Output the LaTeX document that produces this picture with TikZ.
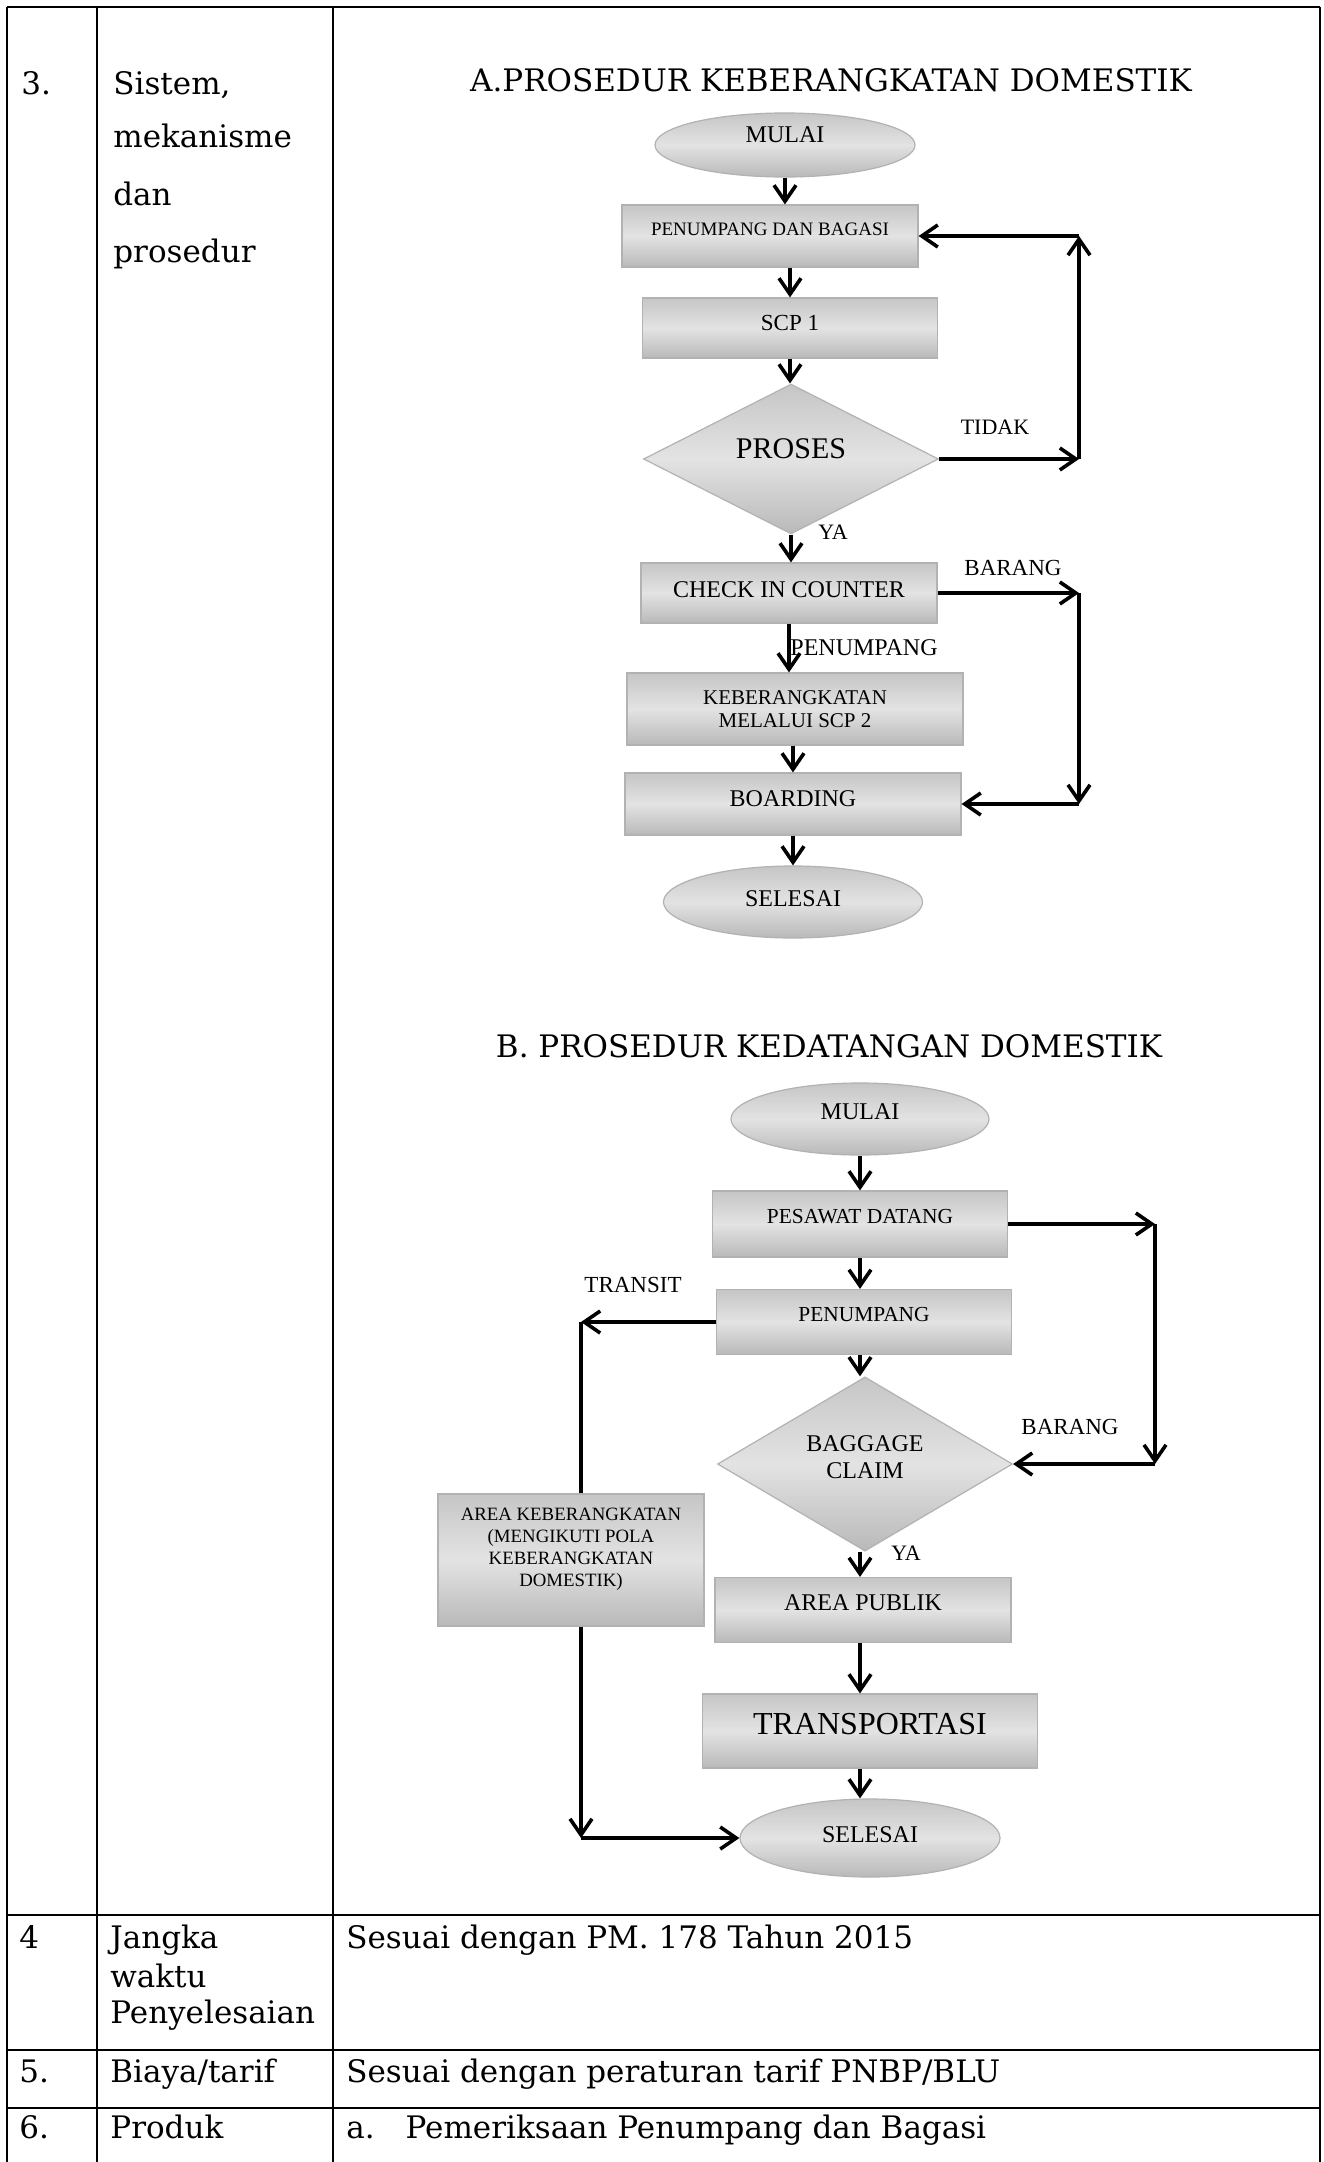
\documentclass[tikz,border=0pt]{standalone}
\usepackage{fontspec}
\setmainfont{Liberation Serif}
\newfontfamily\tabfont{DejaVu Serif}
\usetikzlibrary{arrows.meta,shapes,positioning,calc}

\begin{document}
\begin{tikzpicture}[x=0.5pt,y=-0.5pt,
  fs/.style 2 args={font=\fontsize{#1}{#2}\selectfont},
  tabtxt/.style={font=\tabfont\fontsize{15.5}{17}\selectfont,inner sep=0pt,anchor=base west},
  tabline/.style={line width=1.3pt},
  gshade/.style={top color=gray!45,bottom color=gray!55,middle color=gray!22,draw=gray!60,line width=0.6pt,inner sep=0pt,align=center,text depth=7pt},
  box/.style={gshade,rectangle},
  term/.style={gshade,ellipse},
  dec/.style={gshade,diamond},
  arr/.style={line width=1.8pt,-{Straight Barb[length=8pt,width=11pt]}},
  lbl/.style={inner sep=0pt}
]
\useasboundingbox (0,0) rectangle (1323,2162);
\fill[white] (0,0) rectangle (1323,2162);

% table frame
\draw[tabline] (7,7) -- (1320,7);
\draw[tabline] (7,7) -- (7,2162);
\draw[tabline] (97,7) -- (97,2162);
\draw[tabline] (333,7) -- (333,2162);
\draw[tabline] (1320,7) -- (1320,2162);
\draw[tabline] (7,1915) -- (1320,1915);
\draw[tabline] (7,2050) -- (1320,2050);
\draw[tabline] (7,2108) -- (1320,2108);

% row 3
\node[tabtxt] (no3) at (21,95) {3.};
\node[tabtxt] (sis1) at (113,95) {Sistem,};
\node[tabtxt] (sis2) at (113,148) {mekanisme};
\node[tabtxt] (sis3) at (113,205) {dan};
\node[tabtxt] (sis4) at (113,262) {prosedur};
\node[tabtxt,anchor=base] (headA) at (831,92) {A.PROSEDUR KEBERANGKATAN DOMESTIK};
\node[tabtxt,anchor=base] (headB) at (829,1057) {B. PROSEDUR KEDATANGAN DOMESTIK};

% A. keberangkatan
\node[term,fs={12}{14},text depth=10pt,minimum width=130pt,minimum height=32pt] (mulaiA) at (785,145) {MULAI};
\node[box,fs={9.5}{11},minimum width=148pt,minimum height=31pt] (pdb) at (770,236) {PENUMPANG DAN BAGASI};
\node[box,fs={11.5}{13},text depth=5pt,minimum width=147.5pt,minimum height=30pt] (scp1) at (790,328) {SCP 1};
\node[dec,fs={15}{17},text depth=10pt,minimum width=147.5pt,minimum height=71pt] (proses) at (791,459) {PROSES};
\node[box,fs={12}{14},text depth=3pt,minimum width=148pt,minimum height=30pt] (cic) at (789,593) {CHECK IN COUNTER};
\node[box,fs={10.5}{11.5},text depth=0pt,minimum width=168pt,minimum height=36pt] (keb) at (795,709) {KEBERANGKATAN\\MELALUI SCP 2};
\node[box,fs={12}{14},text depth=5pt,minimum width=168pt,minimum height=31pt] (boarding) at (793,804) {BOARDING};
\node[term,fs={12}{14},text depth=3pt,minimum width=129.5pt,minimum height=36pt] (selA) at (793,902) {SELESAI};

\node[lbl,fs={11}{13}] (tidak) at (995,427) {TIDAK};
\node[lbl,fs={11}{13}] (yaA) at (833,532) {YA};
\node[lbl,fs={11.5}{13}] (barangA) at (1013,568) {BARANG};
\node[lbl,fs={12}{14}] (penA) at (864,648) {PENUMPANG};

\draw[arr] (mulaiA.south) -- (mulaiA.south |- pdb.north);
\draw[arr] (pdb.south -| scp1.north) -- (scp1.north);
\draw[arr] (scp1.south) -- (scp1.south |- proses.north);
\draw[arr] (proses.south) -- (proses.south |- cic.north);
\draw[arr] (cic.south) -- (cic.south |- keb.north);
\draw[arr] (keb.south -| boarding.north) -- (boarding.north);
\draw[arr] (boarding.south) -- (boarding.south |- selA.north);
\coordinate (tidakR) at (1079,459);
\draw[arr] (proses.east) -- (tidakR);
\draw[arr] (tidakR) -- (tidakR |- pdb.east);
\draw[arr] (tidakR |- pdb.east) -- (pdb.east);
\coordinate (barangR) at (1079,593);
\draw[arr] (cic.east) -- (barangR);
\draw[arr] (barangR) -- (barangR |- boarding.east);
\draw[arr] (barangR |- boarding.east) -- (boarding.east);

% B. kedatangan
\node[term,fs={12}{14},minimum width=129pt,minimum height=36pt] (mulaiB) at (860,1119) {MULAI};
\node[box,fs={10.7}{12},text depth=8pt,minimum width=147.5pt,minimum height=33pt] (pd) at (860,1224) {PESAWAT DATANG};
\node[box,fs={10.7}{12},text depth=8pt,minimum width=147.5pt,minimum height=32.5pt] (pen) at (864,1322) {PENUMPANG};
\node[dec,fs={12}{13.5},minimum width=147.5pt,minimum height=77.5pt] (bc) at (865,1464) {BAGGAGE\\CLAIM};
\node[box,fs={12}{14},minimum width=148pt,minimum height=32.5pt] (ap) at (863,1610) {AREA PUBLIK};
\node[box,fs={9.4}{11},text depth=13pt,minimum width=133pt,minimum height=66pt] (ak) at (571,1560) {AREA KEBERANGKATAN\\(MENGIKUTI POLA\\KEBERANGKATAN\\DOMESTIK)};
\node[box,fs={16}{18},minimum width=167.5pt,minimum height=37pt] (tr) at (870,1731) {TRANSPORTASI};
\node[term,fs={12}{14},text depth=3pt,minimum width=130pt,minimum height=39pt] (selB) at (870,1838) {SELESAI};

\node[lbl,fs={11.5}{13}] (barangB) at (1070,1427) {BARANG};
\node[lbl,fs={11.5}{13}] (transit) at (633,1285) {TRANSIT};
\node[lbl,fs={11}{13}] (yaB) at (906,1553) {YA};

\draw[arr] (mulaiB.south) -- (mulaiB.south |- pd.north);
\draw[arr] (pd.south) -- (pd.south |- pen.north);
\draw[arr] (pen.south -| pd.south) -- (bc.north -| pd.south);
\draw[arr] (bc.south -| pd.south) -- (ap.north -| pd.south);
\draw[arr] (ap.south -| pd.south) -- (tr.north -| pd.south);
\draw[arr] (tr.south -| pd.south) -- (selB.north -| pd.south);
\coordinate (pdR) at (1155,1224);
\draw[arr] (pd.east) -- (pdR);
\draw[arr] (pdR) -- (pdR |- bc.east);
\draw[arr] (pdR |- bc.east) -- (bc.east);
\coordinate (penL) at (581,1322);
\draw[arr] (pen.west) -- (penL);
\draw[line width=1.8pt] (penL) -- (penL |- ak.north);
\coordinate (akB) at (581,1838);
\draw[arr] (penL |- ak.south) -- (akB);
\draw[arr] (akB) -- (selB.west);

% rows 4 - 6
\node[tabtxt] (no4) at (19,1948) {4};
\node[tabtxt] (jw1) at (110,1948) {Jangka};
\node[tabtxt] (jw2) at (110,1987) {waktu};
\node[tabtxt] (jw3) at (110,2023) {Penyelesaian};
\node[tabtxt] (pm) at (346,1948) {Sesuai dengan PM. 178 Tahun 2015};
\node[tabtxt] (no5) at (19,2082) {5.};
\node[tabtxt] (biaya) at (110,2082) {Biaya/tarif};
\node[tabtxt] (tarif) at (346,2082) {Sesuai dengan peraturan tarif PNBP/BLU};
\node[tabtxt] (no6) at (19,2138) {6.};
\node[tabtxt] (produk) at (110,2138) {Produk};
\node[tabtxt] (prd) at (346,2138) {a.\quad Pemeriksaan Penumpang dan Bagasi};
\end{tikzpicture}
\end{document}
